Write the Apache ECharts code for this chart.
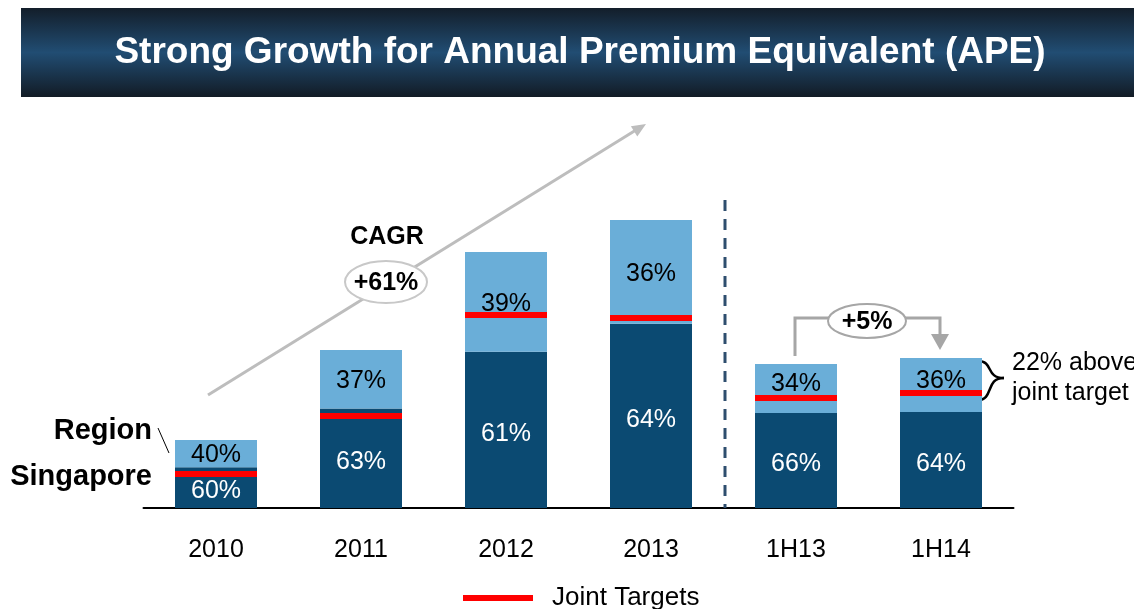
<!DOCTYPE html>
<html>
<head>
<meta charset="utf-8">
<script src="https://cdn.jsdelivr.net/npm/echarts@6/dist/echarts.min.js"></script>
<style>
  html, body { margin: 0; padding: 0; background: #fff; }
  #chart { width: 1134px; height: 609px; }
</style>
</head>
<body>
<div id="chart"></div>
<script>
// Annual Premium Equivalent by period (relative bar height) and its split
const categories = ['2010', '2011', '2012', '2013', '1H13', '1H14'];
const apeTotal = [68, 158, 256, 288, 144, 150];
const singaporeShare = [60, 63, 61, 64, 66, 64];
const regionShare = [40, 37, 39, 36, 34, 36];
const jointTargets = [34, 92, 193, 190, 110, 115];

const FONT = '"Liberation Sans", Arial, Helvetica, sans-serif';
const DARK = '#0b4a72';
const LIGHT = '#6aaed8';
const RED = '#ff0000';

const singaporeValues = apeTotal.map((t, i) => t * singaporeShare[i] / 100);
// half-year region labels sit a little higher so the target line does not cover them
const regionValues = apeTotal.map((t, i) => ({
  value: t * regionShare[i] / 100,
  label: { offset: [0, categories[i].startsWith('1H') ? -4 : 2] }
}));

const chart = echarts.init(document.getElementById('chart'), null, { renderer: 'canvas' });

const grey = '#bdbdbd';
const bracketGrey = '#a6a6a6';

const option = {
  animation: false,
  textStyle: { fontFamily: FONT },
  grid: { left: 143.5, right: 120.5, top: 108, bottom: 101, containLabel: false },
  xAxis: {
    type: 'category',
    data: categories,
    axisLine: { show: true, lineStyle: { color: '#000', width: 2 } },
    axisTick: { show: false },
    axisLabel: { color: '#000', fontSize: 25, fontFamily: FONT, margin: 30 }
  },
  yAxis: {
    type: 'value', min: 0, max: 400, show: false,
    splitLine: { show: false }
  },
  legend: {
    data: [{ name: 'Joint Targets', icon: 'rect', itemStyle: { color: RED, opacity: 1 } }],
    left: 458, top: 580,
    itemWidth: 70, itemHeight: 6,
    textStyle: { fontSize: 26, color: '#000', fontFamily: FONT, padding: [0, 0, 0, 14] }
  },
  series: [
    {
      name: 'Singapore', type: 'bar', stack: 'ape', barWidth: 82,
      data: singaporeValues,
      itemStyle: { color: DARK },
      label: {
        show: true, position: 'inside', offset: [0, 4], color: '#fff', fontSize: 25, fontFamily: FONT,
        formatter: p => singaporeShare[p.dataIndex] + '%'
      }
    },
    {
      name: 'Region', type: 'bar', stack: 'ape', barWidth: 82,
      data: regionValues,
      itemStyle: { color: LIGHT },
      label: {
        show: true, position: 'inside', color: '#000', fontSize: 25, fontFamily: FONT,
        formatter: p => regionShare[p.dataIndex] + '%'
      }
    },
    {
      name: 'Joint Targets', type: 'scatter', z: 10,
      data: jointTargets,
      symbol: 'rect', symbolSize: [82, 6],
      itemStyle: { color: RED, opacity: 1 },
      label: { show: false }
    }
  ],
  graphic: [
    // title banner
    {
      type: 'rect', left: 21, top: 8, z: 0,
      shape: { width: 1113, height: 89 },
      style: {
        fill: new echarts.graphic.LinearGradient(0, 0, 0, 1, [
          { offset: 0, color: '#131e2a' },
          { offset: 0.5, color: '#214d73' },
          { offset: 1, color: '#121b25' }
        ])
      }
    },
    {
      type: 'text', x: 580, y: 53, z: 1,
      style: {
        text: 'Strong Growth for Annual Premium Equivalent (APE)',
        fill: '#fff', font: 'bold 37px ' + FONT,
        align: 'center', verticalAlign: 'middle'
      }
    },
    // CAGR arrow
    {
      type: 'line', z: 1,
      shape: { x1: 208, y1: 395, x2: 636, y2: 130 },
      style: { stroke: grey, lineWidth: 3 }
    },
    {
      type: 'polygon', z: 1,
      shape: { points: [[646, 124], [637.3, 136.5], [630.9, 126.3]] },
      style: { fill: grey }
    },
    {
      type: 'text', x: 387, y: 237, z: 2,
      style: { text: 'CAGR', fill: '#000', font: 'bold 25px ' + FONT, align: 'center', verticalAlign: 'middle' }
    },
    {
      type: 'ellipse', z: 2,
      shape: { cx: 386, cy: 282, rx: 41, ry: 21 },
      style: { fill: '#fff', stroke: '#c8c8c8', lineWidth: 2 }
    },
    {
      type: 'text', x: 386, y: 283, z: 3,
      style: { text: '+61%', fill: '#000', font: 'bold 25px ' + FONT, align: 'center', verticalAlign: 'middle' }
    },
    // separator between full years and half years
    {
      type: 'line', z: 1,
      shape: { x1: 725, y1: 200, x2: 725, y2: 508 },
      style: { stroke: '#2e4e6e', lineWidth: 3, lineDash: [11, 8] }
    },
    // half-year growth bracket
    {
      type: 'polyline', z: 1,
      shape: { points: [[795, 356], [795, 318], [940, 318], [940, 336]] },
      style: { stroke: bracketGrey, lineWidth: 3, fill: null }
    },
    {
      type: 'polygon', z: 1,
      shape: { points: [[931, 334], [949, 334], [940, 350]] },
      style: { fill: bracketGrey }
    },
    {
      type: 'ellipse', z: 2,
      shape: { cx: 867, cy: 321, rx: 39, ry: 17 },
      style: { fill: '#fff', stroke: bracketGrey, lineWidth: 2 }
    },
    {
      type: 'text', x: 867, y: 322, z: 3,
      style: { text: '+5%', fill: '#000', font: 'bold 25px ' + FONT, align: 'center', verticalAlign: 'middle' }
    },
    // brace and note for 1H14
    {
      type: 'bezierCurve', z: 2,
      shape: { x1: 978, y1: 361, cpx1: 994, cpy1: 361, cpx2: 985, cpy2: 378, x2: 1004, y2: 378 },
      style: { stroke: '#000', lineWidth: 2.5, fill: null }
    },
    {
      type: 'bezierCurve', z: 2,
      shape: { x1: 1004, y1: 378, cpx1: 985, cpy1: 378, cpx2: 994, cpy2: 400, x2: 978, y2: 400 },
      style: { stroke: '#000', lineWidth: 2.5, fill: null }
    },
    {
      type: 'text', x: 1012, y: 363, z: 2,
      style: { text: '22% above', fill: '#000', font: '25px ' + FONT, align: 'left', verticalAlign: 'middle' }
    },
    {
      type: 'text', x: 1012, y: 393, z: 2,
      style: { text: 'joint target', fill: '#000', font: '25px ' + FONT, align: 'left', verticalAlign: 'middle' }
    },
    // segment names
    {
      type: 'text', x: 152, y: 431, z: 2,
      style: { text: 'Region', fill: '#000', font: 'bold 29px ' + FONT, align: 'right', verticalAlign: 'middle' }
    },
    {
      type: 'text', x: 152, y: 477, z: 2,
      style: { text: 'Singapore', fill: '#000', font: 'bold 29px ' + FONT, align: 'right', verticalAlign: 'middle' }
    },
    {
      type: 'line', z: 2,
      shape: { x1: 158, y1: 428, x2: 169, y2: 453 },
      style: { stroke: '#000', lineWidth: 1 }
    }
  ]
};

chart.setOption(option);
</script>
</body>
</html>
